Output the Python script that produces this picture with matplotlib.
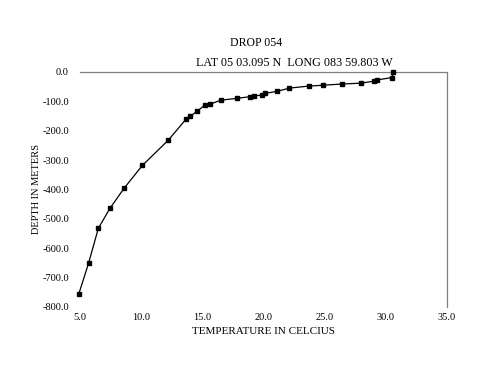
import matplotlib
matplotlib.use("Agg")
import matplotlib.pyplot as plt
from matplotlib.ticker import FormatStrFormatter

temperature = [4.9, 5.7, 6.5, 7.45, 8.6, 10.1, 12.2, 13.7, 14.0, 14.6, 15.25, 15.6,
               16.5, 17.8, 18.9, 19.25, 19.9, 20.1, 21.1, 22.1, 23.7, 24.9, 26.4,
               28.0, 29.05, 29.3, 30.5, 30.6]
depth = [-756, -651, -532, -464, -396, -318, -233, -159, -151, -133, -111, -110,
         -96, -90, -84, -82, -78, -73, -66, -55, -48, -45, -41,
         -38, -31, -27, -19, 0]

x_ticks = [5, 10, 15, 20, 25, 30, 35]
y_ticks = [0, -100, -200, -300, -400, -500, -600, -700, -800]

title1 = "DROP 054"
title2 = "LAT 05 03.095 N  LONG 083 59.803 W"
xlabel = "TEMPERATURE IN CELCIUS"
ylabel = "DEPTH IN METERS"

plt.rcParams['font.family'] = ['Liberation Serif', 'DejaVu Serif']

fig = plt.figure(figsize=(5.0, 3.86), dpi=100)
ax = fig.add_axes([0.16, 0.2047, 0.734, 0.6088])

ax.plot(temperature, depth, color='black', lw=0.9, marker='s', ms=2.3,
        mfc='black', mec='black', clip_on=False, zorder=3)

ax.set_xlim(5, 35)
ax.set_ylim(-800, 0)
ax.set_xticks(x_ticks)
ax.set_yticks(y_ticks)
ax.xaxis.set_major_formatter(FormatStrFormatter('%.1f'))
ax.yaxis.set_major_formatter(FormatStrFormatter('%.1f'))
ax.tick_params(axis='both', length=0, labelsize=7.5)
ax.tick_params(axis='x', pad=4)
ax.tick_params(axis='y', pad=8)

for s in ['left', 'bottom']:
    ax.spines[s].set_visible(False)
for s in ['top', 'right']:
    ax.spines[s].set_color('#808080')
    ax.spines[s].set_linewidth(0.9)

ax.set_xlabel(xlabel, fontsize=8, labelpad=4)
ax.set_ylabel(ylabel, fontsize=7.5, labelpad=0.5)

fig.text(0.512, 0.888, title1, fontsize=8.5, ha='center', va='center')
fig.text(0.588, 0.837, title2, fontsize=8.7, ha='center', va='center')

fig.savefig("out.png", dpi=100)
